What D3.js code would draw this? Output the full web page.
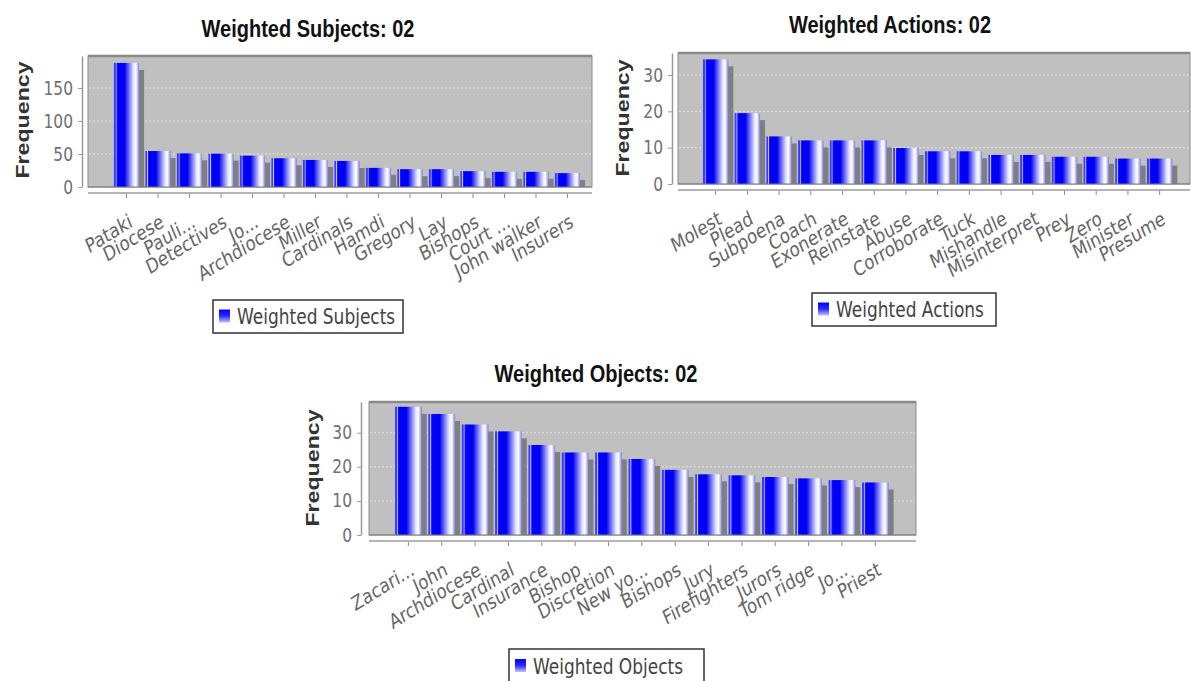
<!DOCTYPE html>
<html><head><meta charset="utf-8">
<script src="https://cdn.jsdelivr.net/npm/d3@7"></script>
<style>body{margin:0;background:#fff}svg{display:block}</style>
</head><body>
<svg id="c" width="1191" height="681"></svg>
<script>
const subjectCategories = ["Pataki","Diocese","Pauli...","Detectives","Jo...","Archdiocese","Miller","Cardinals","Hamdi","Gregory","Lay","Bishops","Court ...","John walker","Insurers"];
const subjectValues = [188, 54.5, 51, 50.5, 47.5, 43.5, 41, 39.5, 29, 27, 27, 24, 23, 23, 21];
const subjectTicks = [0, 50, 100, 150];

const actionCategories = ["Molest","Plead","Subpoena","Coach","Exonerate","Reinstate","Abuse","Corroborate","Tuck","Mishandle","Misinterpret","Prey","Zero","Minister","Presume"];
const actionValues = [34.3, 19.5, 13.1, 12, 12, 12, 9.9, 9, 9, 8, 8, 7.5, 7.5, 7, 7];
const actionTicks = [0, 10, 20, 30];

const objectCategories = ["Zacari...","John","Archdiocese","Cardinal","Insurance","Bishop","Discretion","New yo...","Bishops","Jury","Firefighters","Jurors","Tom ridge","Jo...","Priest"];
const objectValues = [37.6, 35.5, 32.4, 30.4, 26.4, 24.2, 24.2, 22.3, 19.1, 17.8, 17.5, 17, 16.6, 16.1, 15.4];
const objectTicks = [0, 10, 20, 30];

const svg = d3.select("#c");
const defs = svg.append("defs");
const grad = defs.append("linearGradient").attr("id","barGrad")
  .attr("x1",0).attr("x2",1).attr("y1",0).attr("y2",0);
[[0,"#3a3aff"],[0.06,"#3a3aff"],[0.085,"#d0d0ff"],[0.12,"#1a1aff"],[0.16,"#0000ff"],
 [0.42,"#0000f0"],[0.78,"#e6e6ff"],[0.87,"#ffffff"],[0.93,"#c8c8f4"],[1,"#7b7be6"]]
 .forEach(([o,c]) => grad.append("stop").attr("offset",o).attr("stop-color",c));
const lg = defs.append("linearGradient").attr("id","legGrad")
  .attr("x1",0).attr("x2",0).attr("y1",0).attr("y2",1);
[[0,"#0000ff"],[0.5,"#2a2aff"],[1,"#c4c4ff"]]
 .forEach(([o,c]) => lg.append("stop").attr("offset",o).attr("stop-color",c));

const SY = 1.22;
const SANS = "DejaVu Sans, Verdana, sans-serif";
const BOLD = "Liberation Sans, Arial, sans-serif";

function drawChart(cfg) {
  const p = cfg.plot;
  const g = svg.append("g");
  const x = d3.scaleBand().domain(cfg.categories).range(cfg.band)
    .paddingInner(0.2).paddingOuter(0.1);
  const y = d3.scaleLinear().domain([0, cfg.yMax]).range([p.b, p.t]);

  // title
  g.append("text")
    .attr("transform", `translate(${cfg.title.x},${cfg.title.y}) scale(1,${SY})`)
    .attr("text-anchor","middle").attr("font-family",BOLD).attr("font-weight","bold")
    .attr("font-size",20).attr("fill","#111").text(cfg.titleText);

  // plot background
  g.append("rect").attr("x",p.l).attr("y",p.t).attr("width",p.r-p.l).attr("height",p.b-p.t)
    .attr("fill","#c0c0c0").attr("stroke","#8c8c8c").attr("stroke-width",1);
  g.append("line").attr("x1",p.l).attr("x2",p.r).attr("y1",p.t).attr("y2",p.t)
    .attr("stroke","#8a8a8a").attr("stroke-width",2.5);

  // grid lines
  g.selectAll(null).data(cfg.yTicks.filter(d => d > 0)).join("line")
    .attr("x1",p.l+1).attr("x2",p.r-1).attr("y1",d => y(d)).attr("y2",d => y(d))
    .attr("stroke","#e4e4e4").attr("stroke-dasharray","2,2");

  // shadows
  const bw = x.bandwidth();
  g.selectAll(null).data(cfg.values).join("rect")
    .attr("x",(d,i) => x(cfg.categories[i]) + 5)
    .attr("y",d => y(d) + 7)
    .attr("width",bw)
    .attr("height",d => Math.max(0, p.b - y(d) - 7))
    .attr("fill","#7f7f7f");

  // bars
  g.selectAll(null).data(cfg.values).join("rect")
    .attr("x",(d,i) => x(cfg.categories[i]))
    .attr("y",d => y(d))
    .attr("width",bw)
    .attr("height",d => p.b - y(d))
    .attr("fill","url(#barGrad)");

  // floor line
  g.append("line").attr("x1",p.l).attr("x2",p.r).attr("y1",p.b).attr("y2",p.b)
    .attr("stroke","#7c7c7c").attr("stroke-width",1.2);

  // y axis
  const ya = d3.axisLeft(y).tickValues(cfg.yTicks).tickSize(4).tickSizeOuter(0)
    .tickPadding(5).tickFormat(d3.format("d"));
  const yg = g.append("g").attr("transform",`translate(${cfg.yAxisX},0)`).call(ya);
  yg.select(".domain").attr("stroke","#9a9a9a").attr("stroke-width",1.5);
  yg.selectAll(".tick line").attr("stroke","#9a9a9a");
  yg.selectAll(".tick text").attr("font-family",SANS).attr("font-size",15.5)
    .attr("fill","#707070").attr("transform",`scale(1,${SY})`);

  // x axis
  g.append("line").attr("x1",p.l).attr("x2",p.r).attr("y1",cfg.xAxisY).attr("y2",cfg.xAxisY)
    .attr("stroke","#b4b4b4").attr("stroke-width",2.2);
  const xa = d3.axisBottom(x).tickSize(4).tickSizeOuter(0);
  const xg = g.append("g").attr("transform",`translate(0,${cfg.xAxisY+1})`).call(xa);
  xg.select(".domain").remove();
  xg.selectAll(".tick line").attr("stroke","#8a8a8a");
  xg.selectAll(".tick text")
    .attr("x",null).attr("y",null).attr("dy",null)
    .attr("text-anchor","end").attr("font-family",SANS).attr("font-size",16.5)
    .attr("fill","#666")
    .attr("transform",`translate(7,32) scale(1,${SY}) rotate(-27)`);

  // y axis label
  g.append("text")
    .attr("transform",`translate(${cfg.freq.x},${cfg.freq.y}) scale(1,${SY}) rotate(-90)`)
    .attr("text-anchor","middle").attr("font-family",BOLD).attr("font-weight","bold")
    .attr("font-size",19).attr("fill","#333").text("Frequency");

  // legend
  const L = cfg.legend;
  g.append("rect").attr("x",L.x).attr("y",L.y).attr("width",L.w).attr("height",L.h)
    .attr("fill","#fff").attr("stroke","#333").attr("stroke-width",1.5);
  g.append("rect").attr("x",L.x+6).attr("y",L.y+L.h/2-7).attr("width",11).attr("height",13)
    .attr("fill","url(#legGrad)");
  g.append("text")
    .attr("transform",`translate(${L.x+24},${L.y+L.h/2+7.5}) scale(1,${SY})`)
    .attr("font-family",SANS).attr("font-size",17).attr("fill","#444").text(cfg.seriesName);
}

drawChart({
  categories: subjectCategories, values: subjectValues, yTicks: subjectTicks,
  titleText: "Weighted Subjects: 02", seriesName: "Weighted Subjects",
  title: {x: 308, y: 37},
  plot: {l: 88, t: 56, r: 592, b: 187}, yMax: 198.5,
  band: [110.75, 583.25], yAxisX: 82, xAxisY: 193,
  freq: {x: 29, y: 120},
  legend: {x: 213, y: 300, w: 190, h: 33}
});

drawChart({
  categories: actionCategories, values: actionValues, yTicks: actionTicks,
  titleText: "Weighted Actions: 02", seriesName: "Weighted Actions",
  title: {x: 890, y: 33},
  plot: {l: 678, t: 53, r: 1190, b: 184}, yMax: 36.05,
  band: [699.8, 1175.5], yAxisX: 672, xAxisY: 190,
  freq: {x: 629, y: 118},
  legend: {x: 812, y: 293, w: 184, h: 33}
});

drawChart({
  categories: objectCategories, values: objectValues, yTicks: objectTicks,
  titleText: "Weighted Objects: 02", seriesName: "Weighted Objects",
  title: {x: 596, y: 382},
  plot: {l: 369, t: 402, r: 916, b: 535}, yMax: 39.0,
  band: [391.7, 892], yAxisX: 361, xAxisY: 541,
  freq: {x: 319, y: 468},
  legend: {x: 509, y: 649, w: 195, h: 34}
});
</script>
</body></html>
